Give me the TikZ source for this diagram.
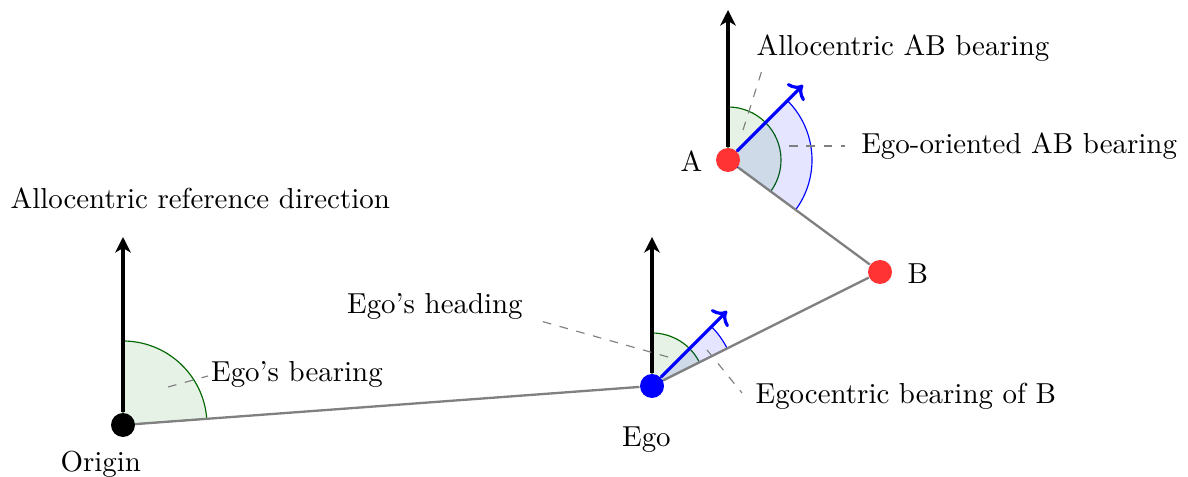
\documentclass[tikz,border=0pt]{standalone}
\usetikzlibrary{backgrounds,arrows.meta}
\begin{document}
\begin{tikzpicture}[x=0.346pt,y=0.346pt,
  dot/.style={circle,inner sep=0pt,minimum size=8.3pt},
  refarrow/.style={-{Stealth[length=5.4pt,width=5.4pt,inset=1.6pt]},very thick,black},
  headarrow/.style={->,blue,line width=1.1pt},
  link/.style={gray,thick},
  lead/.style={gray,dashed,thin},
  lbl/.style={inner sep=0pt,anchor=base west},
  gwedge/.style={draw=green!40!black,fill=green!50!black,fill opacity=0.1,thin},
  bwedge/.style={draw=blue,fill=blue,fill opacity=0.1,thin}]
\useasboundingbox (0,0) rectangle (1188,477);
% points
\node[dot,fill=black] (O) at (123,52) {};
\node[dot,fill=blue] (E) at (652,91) {};
\node[dot,fill=red!80] (A) at (728,317) {};
\node[dot,fill=red!80] (B) at (880,205) {};
% wedges
\begin{scope}[on background layer]
\filldraw[gwedge] (O.center) -- ++(90:84) arc[start angle=90,end angle=4.22,radius=84] -- cycle;
\filldraw[gwedge] (E.center) -- ++(90:53) arc[start angle=90,end angle=26.57,radius=53] -- cycle;
\filldraw[bwedge] (E.center) -- ++(45:84) arc[start angle=45,end angle=26.57,radius=84] -- cycle;
\filldraw[gwedge] (A.center) -- ++(90:53) arc[start angle=90,end angle=-36.38,radius=53] -- cycle;
\filldraw[bwedge] (A.center) -- ++(45:84) arc[start angle=45,end angle=-36.38,radius=84] -- cycle;
\end{scope}
% connectors
\draw[link] (O) -- (E) -- (B) -- (A);
\coordinate (Otip) at (123,240);
\coordinate (Etip) at (652,240);
\coordinate (Atip) at (728,467);
\draw[refarrow] (O) -- (Otip);
\draw[refarrow] (E) -- (Etip);
\draw[refarrow] (A) -- (Atip);
\draw[headarrow] (E) -- ++(45:106);
\draw[headarrow] (A) -- ++(45:106);
% labels
\node[lbl] (lOrigin) at (60,5) {Origin};
\node[lbl] (lEgo) at (621.5,30.3) {Ego};
\node[lbl] (lA) at (680,305) {A};
\node[lbl] (lB) at (907,193) {B};
\node[lbl] (lARD) at (10,268) {Allocentric reference direction};
\node[lbl] (lEB) at (210.5,95) {Ego's bearing};
\node[lbl] (lEH) at (346.5,163.7) {Ego's heading};
\node[lbl] (lEcB) at (755,73) {Egocentric bearing of B};
\node[lbl] (lAAB) at (756,421.3) {Allocentric AB bearing};
\node[lbl] (lEAB) at (860.7,323) {Ego-oriented AB bearing};
% leader lines
\coordinate (ebS) at (168,90);   \coordinate (ebE) at (208,101);
\coordinate (ehS) at (668,120);  \coordinate (ehE) at (537,157);
\coordinate (ecS) at (707,127);  \coordinate (ecE) at (742,84);
\coordinate (aaS) at (743,347);  \coordinate (aaE) at (763,410);
\coordinate (eaS) at (789,331);  \coordinate (eaE) at (845,331);
\draw[lead] (ebS) -- (ebE);
\draw[lead] (ehS) -- (ehE);
\draw[lead] (ecS) -- (ecE);
\draw[lead] (aaS) -- (aaE);
\draw[lead] (eaS) -- (eaE);
\end{tikzpicture}
\end{document}
